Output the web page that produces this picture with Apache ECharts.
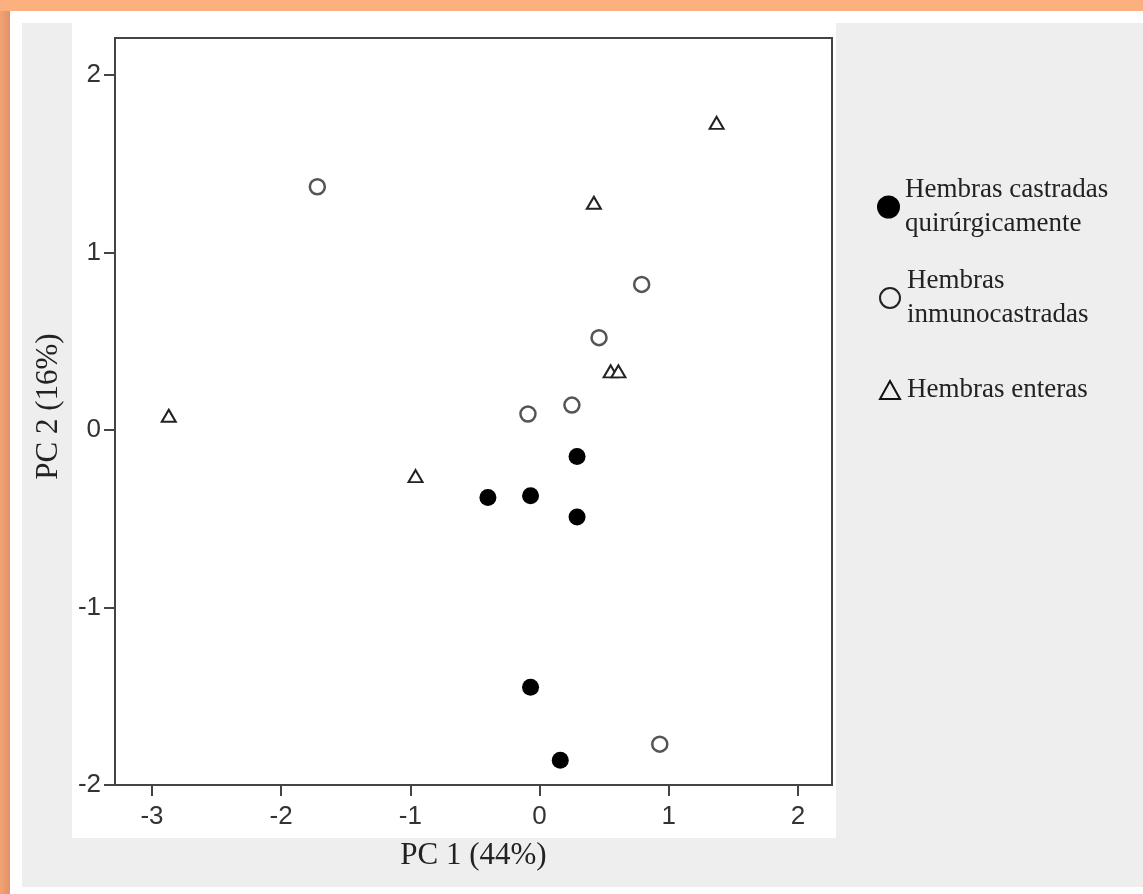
<!DOCTYPE html>
<html>
<head>
<meta charset="utf-8">
<script src="https://cdn.jsdelivr.net/npm/echarts@6/dist/echarts.min.js"></script>
<style>
  html, body { margin:0; padding:0; width:1143px; height:894px; overflow:hidden; background:#FDB07F; }
  #leftstrip { position:absolute; left:0; top:11px; width:10px; height:883px; background:linear-gradient(to right, #F2A373, #E2916A); }
  #frame { position:absolute; left:10px; top:11px; width:1133px; height:883px; background:#ffffff; }
  #panel { position:absolute; left:22px; top:23px; width:1121px; height:864px; background:#eeeeee; }
  #plotbg { position:absolute; left:72px; top:23px; width:764px; height:815px; background:#ffffff; }
  #chart { position:absolute; left:0; top:0; width:1143px; height:894px; }
</style>
</head>
<body>
<div id="leftstrip"></div>
<div id="frame"></div>
<div id="panel"></div>
<div id="plotbg"></div>
<div id="chart"></div>
<script>
// ---- data ----
const seriesNames = ['Hembras castradas\nquirúrgicamente', 'Hembras\ninmunocastradas', 'Hembras enteras'];
const castradasX = [0.29, -0.40, -0.07, 0.29, -0.07, 0.16];
const castradasY = [-0.15, -0.38, -0.37, -0.49, -1.45, -1.86];
const inmunoX = [-1.72, 0.79, 0.46, 0.25, -0.09, 0.93];
const inmunoY = [1.37, 0.82, 0.52, 0.14, 0.09, -1.77];
const enterasX = [1.37, 0.42, 0.55, 0.61, -2.87, -0.96];
const enterasY = [1.73, 1.28, 0.33, 0.33, 0.08, -0.26];
const xTicks = [-3, -2, -1, 0, 1, 2];
const yTicks = [-2, -1, 0, 1, 2];
const xTitle = 'PC 1 (44%)';
const yTitle = 'PC 2 (16%)';

function pairs(xs, ys) { return xs.map((x, i) => [x, ys[i]]); }

const serif = "'Liberation Serif', 'Times New Roman', serif";
const sans = "'Liberation Sans', Arial, sans-serif";

const chart = echarts.init(document.getElementById('chart'), null, { renderer: 'canvas' });

const legendBase = {
  orient: 'vertical',
  itemGap: 0,
  selectedMode: false,
  textStyle: { fontFamily: serif, fontSize: 27, lineHeight: 34, color: '#222', padding: [0, 0, 0, 0] }
};

const option = {
  animation: false,
  backgroundColor: 'transparent',
  grid: {
    left: 115, top: 38, right: 311, bottom: 109,
    show: true, borderColor: '#444', borderWidth: 2, backgroundColor: 'transparent'
  },
  legend: [
    Object.assign({}, legendBase, { left: 872, top: 168, itemWidth: 23, itemHeight: 23,
      data: [{ name: seriesNames[0], icon: 'circle' }] }),
    Object.assign({}, legendBase, { left: 874, top: 259, itemWidth: 20, itemHeight: 20,
      textStyle: Object.assign({}, legendBase.textStyle, { padding: [0, 0, 0, 2] }),
      data: [{ name: seriesNames[1], icon: 'circle', itemStyle: { color: '#eeeeee', borderColor: '#222', borderWidth: 2 } }] }),
    Object.assign({}, legendBase, { left: 874, top: 368, itemWidth: 20, itemHeight: 18,
      textStyle: Object.assign({}, legendBase.textStyle, { padding: [0, 0, 0, 2] }),
      data: [{ name: seriesNames[2], icon: 'triangle', itemStyle: { color: '#eeeeee', borderColor: '#111', borderWidth: 2 } }] })
  ],
  xAxis: {
    type: 'value', min: -3.286, max: 2.263,
    axisLine: { show: true, onZero: false, lineStyle: { color: '#444', width: 2 } },
    axisTick: { show: true, length: 11, customValues: xTicks, lineStyle: { color: '#444', width: 2 } },
    axisLabel: { customValues: xTicks, fontFamily: sans, fontSize: 26, color: '#333', margin: 19, showMinLabel: true, showMaxLabel: true },
    splitLine: { show: false },
    name: xTitle, nameLocation: 'middle', nameGap: 55,
    nameTextStyle: { fontFamily: serif, fontSize: 31, color: '#222' }
  },
  yAxis: {
    type: 'value', min: -2, max: 2.208,
    axisLine: { show: true, onZero: false, lineStyle: { color: '#444', width: 2 } },
    axisTick: { show: true, length: 11, customValues: yTicks, lineStyle: { color: '#444', width: 2 } },
    axisLabel: { customValues: yTicks, fontFamily: sans, fontSize: 26, color: '#333', margin: 14, showMinLabel: true, showMaxLabel: true },
    splitLine: { show: false },
    name: yTitle, nameLocation: 'middle', nameGap: 51,
    nameTextStyle: { fontFamily: serif, fontSize: 31, color: '#222', padding: [0, 0, 0, 10] }
  },
  series: [
    {
      name: seriesNames[0], type: 'scatter', symbol: 'circle', symbolSize: 17,
      itemStyle: { color: '#000', opacity: 1 },
      data: pairs(castradasX, castradasY)
    },
    {
      name: seriesNames[1], type: 'scatter', symbol: 'circle', symbolSize: 15,
      itemStyle: { color: '#fff', borderColor: '#555', borderWidth: 2.5, opacity: 1 },
      data: pairs(inmunoX, inmunoY)
    },
    {
      name: seriesNames[2], type: 'scatter', symbol: 'triangle', symbolSize: [14, 12],
      itemStyle: { color: '#fff', borderColor: '#222', borderWidth: 2, opacity: 1 },
      data: pairs(enterasX, enterasY)
    }
  ]
};
chart.setOption(option);
</script>
</body>
</html>
